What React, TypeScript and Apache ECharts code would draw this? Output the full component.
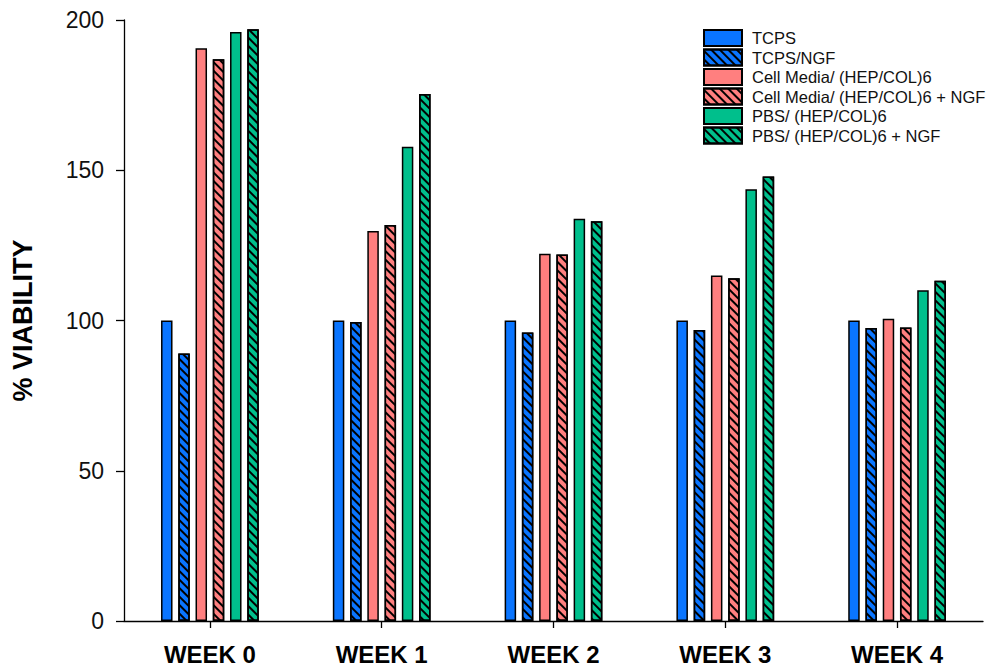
import React, { useEffect, useRef } from "react";
import * as echarts from "echarts";

const categories = ["WEEK 0", "WEEK 1", "WEEK 2", "WEEK 3", "WEEK 4"];
const seriesNames = [
  "TCPS",
  "TCPS/NGF",
  "Cell Media/ (HEP/COL)6",
  "Cell Media/ (HEP/COL)6 + NGF",
  "PBS/ (HEP/COL)6",
  "PBS/ (HEP/COL)6 + NGF",
];
const tcps = [100, 100, 100, 100, 100];
const tcpsNgf = [89, 99.5, 96, 96.8, 97.5];
const cellMedia = [190.6, 129.8, 122.2, 115, 100.6];
const cellMediaNgf = [186.9, 131.8, 122, 114.1, 97.7];
const pbs = [196, 157.8, 133.9, 143.7, 110.1];
const pbsNgf = [196.9, 175.4, 133, 147.9, 113.2];
const yTicks = [0, 50, 100, 150, 200];

const seriesData = [tcps, tcpsNgf, cellMedia, cellMediaNgf, pbs, pbsNgf];
const colors = ["#0A75FF", "#0A75FF", "#FF7F7F", "#FF7F7F", "#00BF8C", "#00BF8C"];
const hatched = [false, true, false, true, false, true];

export default function App() {
  const ref = useRef<HTMLDivElement>(null);
  useEffect(() => {
    if (!ref.current) return;
    const chart = echarts.init(ref.current, undefined, { renderer: "svg" });
    const font = "'Liberation Sans', Arial, sans-serif";
    chart.setOption({
      animation: false,
      textStyle: { fontFamily: font },
      grid: { left: 124, right: 14, top: 20, bottom: 47, containLabel: false },
      legend: {
        orient: "vertical",
        left: 703,
        top: 29,
        padding: 0,
        itemWidth: 38,
        itemHeight: 16,
        itemGap: 1.5,
        icon: "rect",
        textStyle: {
          fontSize: 16.5,
          lineHeight: 16,
          color: "#111",
          fontFamily: font,
          padding: [0, 0, 0, 5],
        },
        data: seriesNames,
      },
      xAxis: {
        type: "category",
        data: categories,
        axisLine: { onZero: false, lineStyle: { color: "#000", width: 1.3 } },
        axisTick: { show: true, alignWithLabel: true, length: 7, lineStyle: { color: "#000", width: 1.3 } },
        axisLabel: { fontSize: 24, fontWeight: "bold", color: "#000", margin: 21, fontFamily: font },
      },
      yAxis: {
        type: "value",
        min: yTicks[0],
        max: yTicks[yTicks.length - 1],
        interval: 50,
        name: "% VIABILITY",
        nameLocation: "middle",
        nameGap: 88,
        nameRotate: 90,
        nameTextStyle: { fontSize: 27, fontWeight: "bold", color: "#000", fontFamily: font },
        axisLine: { show: true, lineStyle: { color: "#000", width: 1.3 } },
        axisTick: { show: true, length: 8, lineStyle: { color: "#000", width: 1.3 } },
        axisLabel: { fontSize: 23, color: "#111", margin: 20, fontFamily: font },
        splitLine: { show: false },
      },
      series: seriesNames.map((name, i) => ({
        name,
        type: "bar",
        data: seriesData[i],
        barWidth: 11.5,
        barGap: "50%",
        itemStyle: {
          color: colors[i],
          borderColor: "#000",
          borderWidth: 1.5,
          decal: hatched[i]
            ? {
                symbol: "rect",
                symbolSize: 1,
                dashArrayX: [1, 0],
                dashArrayY: [2, 3.5],
                rotation: Math.PI / 4,
                color: "#000",
              }
            : "none",
        },
      })),
    });
    return () => chart.dispose();
  }, []);
  return (
    <div
      ref={ref}
      style={{ position: "fixed", left: 0, top: 0, width: 997, height: 668, background: "#fff" }}
    />
  );
}
